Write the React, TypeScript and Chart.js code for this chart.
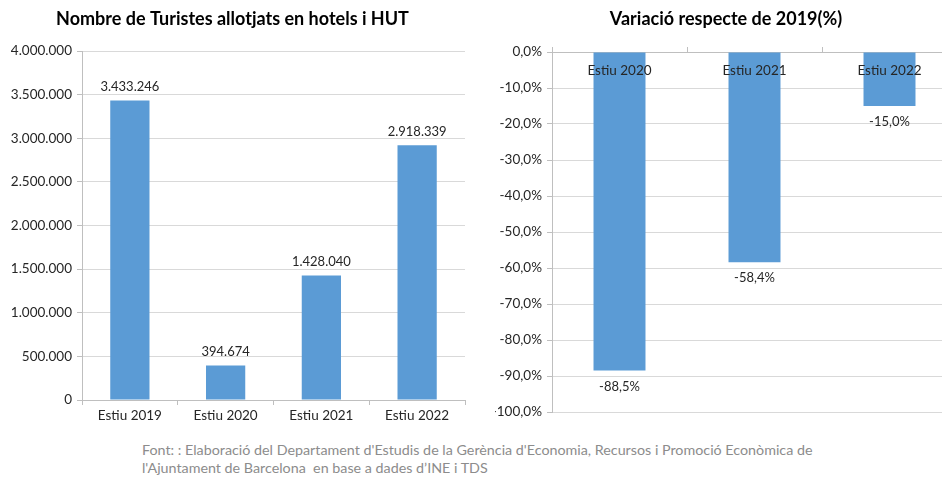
import React, { useEffect, useRef } from "react";
import { Chart, registerables } from "chart.js";

Chart.register(...registerables);

const touristCategories = ["Estiu 2019", "Estiu 2020", "Estiu 2021", "Estiu 2022"];
const touristValues = [3433246, 394674, 1428040, 2918339];
const touristTicks = { min: 0, max: 4000000, step: 500000 };

const variationCategories = ["Estiu 2020", "Estiu 2021", "Estiu 2022"];
const variationValues = [-88.5, -58.4, -15.0];
const variationTicks = { min: -100, max: 0, step: 10 };

const leftTitle = "Nombre de Turistes allotjats en hotels i HUT";
const rightTitle = "Variació respecte de 2019(%)";
const footnoteLines = [
  "Font: : Elaboració del Departament d'Estudis de la Gerència d'Economia, Recursos i Promoció Econòmica de",
  "l'Ajuntament de Barcelona  en base a dades d’INE i TDS",
];

const FONT = "Lato, 'Open Sans', sans-serif";
const BAR = "#5b9bd5";
const GRID = "#d9d9d9";
const AXIS = "#bfbfbf";
const TEXT = "#262626";

function fmtThousands(v: number): string {
  const s = Math.round(Math.abs(v)).toString();
  const out = s.replace(/\B(?=(\d{3})+(?!\d))/g, ".");
  return (v < 0 ? "-" : "") + out;
}
function fmtPct(v: number): string {
  return v.toFixed(1).replace(".", ",") + "%";
}

const valueLabelPlugin = (fmt: (v: number) => string, above: boolean) => ({
  id: "valueLabels",
  afterDatasetsDraw(chart: any) {
    const ctx = chart.ctx;
    const meta = chart.getDatasetMeta(0);
    const data = chart.data.datasets[0].data as number[];
    ctx.save();
    ctx.font = `13px ${FONT}`;
    ctx.fillStyle = TEXT;
    ctx.textAlign = "center";
    ctx.textBaseline = "middle";
    meta.data.forEach((el: any, i: number) => {
      const y = above ? el.y - 14 : el.y + 16;
      ctx.fillText(fmt(data[i]), el.x, y);
    });
    ctx.restore();
  },
});

const innerCategoryPlugin = {
  id: "innerCategories",
  afterDatasetsDraw(chart: any) {
    const ctx = chart.ctx;
    const xs = chart.scales.x;
    ctx.save();
    ctx.font = `13.5px ${FONT}`;
    ctx.fillStyle = TEXT;
    ctx.textAlign = "center";
    ctx.textBaseline = "middle";
    (chart.data.labels as string[]).forEach((lab, i) => {
      ctx.fillText(lab, xs.getPixelForValue(i), chart.chartArea.top + 19);
    });
    ctx.restore();
  },
};

export default function App() {
  const leftRef = useRef<HTMLCanvasElement>(null);
  const rightRef = useRef<HTMLCanvasElement>(null);

  useEffect(() => {
    const left = new Chart(leftRef.current!, {
      type: "bar",
      data: {
        labels: touristCategories,
        datasets: [
          {
            data: touristValues,
            backgroundColor: BAR,
            barPercentage: 0.41,
            categoryPercentage: 1,
          },
        ],
      },
      options: {
        responsive: false,
        animation: false,
        layout: { padding: { left: 0, right: 5, top: 0, bottom: 0 } },
        plugins: {
          legend: { display: false },
          tooltip: { enabled: false },
          title: {
            display: true,
            text: leftTitle,
            color: "#000",
            font: { family: FONT, size: 18, weight: "bold" },
            padding: { top: 8, bottom: 21.4 },
          },
        },
        scales: {
          x: {
            afterFit: (s: any) => {
              s.height = 40;
            },
            grid: {
              display: true,
              drawOnChartArea: false,
              drawTicks: true,
              tickLength: 5,
              color: AXIS,
            },
            border: { color: AXIS },
            ticks: { color: TEXT, font: { family: FONT, size: 13.5 }, padding: 3 },
          },
          y: {
            min: touristTicks.min,
            max: touristTicks.max,
            afterFit: (s: any) => {
              s.width = 82;
            },
            grid: { color: GRID, tickLength: 5, tickColor: AXIS },
            border: { color: AXIS },
            ticks: {
              stepSize: touristTicks.step,
              color: TEXT,
              font: { family: FONT, size: 13.5 },
              padding: 5,
              callback: (v: any) => fmtThousands(Number(v)),
            },
          },
        },
      },
      plugins: [valueLabelPlugin(fmtThousands, true)],
    } as any);

    const right = new Chart(rightRef.current!, {
      type: "bar",
      data: {
        labels: variationCategories,
        datasets: [
          {
            data: variationValues,
            backgroundColor: BAR,
            barPercentage: 0.385,
            categoryPercentage: 1,
          },
        ],
      },
      options: {
        responsive: false,
        animation: false,
        layout: { padding: { left: 25, right: 25, top: 0, bottom: 28 } },
        plugins: {
          legend: { display: false },
          tooltip: { enabled: false },
          title: {
            display: true,
            text: rightTitle,
            color: "#000",
            font: { family: FONT, size: 18, weight: "bold" },
            padding: { top: 8, bottom: 16.4 },
          },
        },
        scales: {
          x: {
            position: "top",
            afterFit: (s: any) => {
              s.height = 6;
            },
            grid: {
              display: true,
              drawOnChartArea: false,
              drawTicks: true,
              tickLength: 5,
              color: AXIS,
            },
            border: { color: AXIS },
            ticks: { display: false },
          },
          y: {
            min: variationTicks.min,
            max: variationTicks.max,
            afterFit: (s: any) => {
              s.width = 57;
            },
            grid: { color: GRID, tickLength: 5, tickColor: AXIS },
            border: { color: AXIS },
            ticks: {
              stepSize: variationTicks.step,
              color: TEXT,
              font: { family: FONT, size: 13.5 },
              padding: 5,
              callback: (v: any) => fmtPct(Number(v)),
            },
          },
        },
      },
      plugins: [valueLabelPlugin(fmtPct, false), innerCategoryPlugin],
    } as any);

    return () => {
      left.destroy();
      right.destroy();
    };
  }, []);

  return (
    <div
      style={{
        position: "fixed",
        left: 0,
        top: 0,
        width: 942,
        height: 478,
        overflow: "hidden",
        background: "#fff",
        fontFamily: FONT,
      }}
    >
      <canvas
        ref={leftRef}
        width={470}
        height={440}
        style={{ position: "absolute", left: 0, top: 0, width: 470, height: 440 }}
      />
      <canvas
        ref={rightRef}
        width={512}
        height={440}
        style={{ position: "absolute", left: 470, top: 0, width: 512, height: 440 }}
      />
      <div
        style={{
          position: "absolute",
          left: 142,
          top: 441,
          fontSize: 14.3,
          lineHeight: "18px",
          color: "#8c8c8c",
          whiteSpace: "pre",
        }}
      >
        {footnoteLines.map((l, i) => (
          <div key={i}>{l}</div>
        ))}
      </div>
    </div>
  );
}
